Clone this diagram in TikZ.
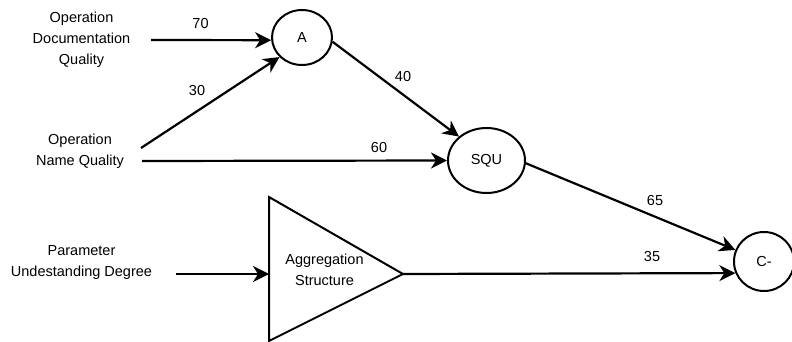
\documentclass[tikz,border=0pt]{standalone}
\usepackage{fontspec}
\setmainfont{Liberation Sans}
\usetikzlibrary{arrows.meta,shapes.geometric}
\begin{document}
\begin{tikzpicture}[x=1pt,y=-1pt,
  every node/.style={font=\fontsize{14.5}{21}\selectfont, inner sep=0pt},
  lbl/.style={align=center},
  num/.style={},
  circ/.style={draw, ellipse, line width=2pt, inner sep=0pt},
  conn/.style={line width=2.2pt, -{Stealth[length=16pt,width=16pt,inset=5pt]}}]
\useasboundingbox (0,0) rectangle (792,342);
\clip (0,0) rectangle (792,342);
% ellipses
\node[circ, minimum width=60pt, minimum height=55pt] (A) at (302,37.5) {A};
\node[circ, minimum width=77pt, minimum height=65pt] (SQU) at (486.5,160.5) {SQU};
\node[circ, minimum width=60pt, minimum height=59pt] (C) at (764,261.5) {C-};
% triangle
\coordinate (T1) at (269,197);
\coordinate (T2) at (403,274);
\coordinate (T3) at (269,341);
\draw[line width=2pt, line join=miter] (T1) -- (T2) -- (T3) -- cycle;
\node[lbl] (agg) at (324.5,270) {Aggregation\\Structure};
% texts
\node[lbl] (opdoc) at (81.5,40) {Operation\\Documentation\\Quality};
\node[lbl] (opname) at (80,151) {Operation\\Name Quality};
\node[lbl] (param) at (81.5,263) {Parameter\\Undestanding Degree};
% start points
\coordinate (s1) at (151,40);
\coordinate (s2) at (141,148);
\coordinate (s3) at (142,161);
\coordinate (s4) at (176,274);
\coordinate (t3) at (269,274);
% connectors
\draw[conn] (s1) -- (A.185);
\draw[conn] (s2) -- (A.221);
\draw[conn] (s3) -- (SQU.west);
\draw[conn] (s4) -- (t3);
\draw[conn] (A.-8) -- (SQU.139);
\draw[conn] (SQU.-4) -- (C.158);
\draw[conn] (T2) -- (C.202);
% numbers
\node[num] (n70) at (200.5,24) {70};
\node[num] (n30) at (197,91) {30};
\node[num] (n60) at (379,147.5) {60};
\node[num] (n40) at (403,77) {40};
\node[num] (n65) at (655,201) {65};
\node[num] (n35) at (652,257) {35};
\end{tikzpicture}
\end{document}
